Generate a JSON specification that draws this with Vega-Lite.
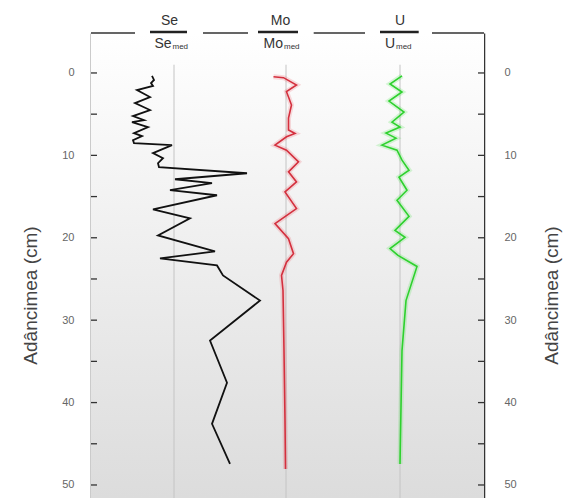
{
  "$schema": "https://vega.github.io/schema/vega-lite/v6.json",
  "width": 393,
  "height": 465,
  "autosize": "none",
  "padding": {"left": 91, "top": 33, "right": 80, "bottom": 0},
  "background": "white",
  "config": {
    "view": {"stroke": null},
    "font": "Liberation Sans",
    "axis": {
      "labelFont": "Liberation Sans",
      "labelFontSize": 11,
      "labelColor": "#666666",
      "titleFont": "Liberation Sans",
      "titleFontSize": 19,
      "titleFontWeight": "normal",
      "titleColor": "#444444",
      "domainColor": "#333333",
      "domainWidth": 1.5,
      "grid": false,
      "zindex": 1
    }
  },
  "datasets": {
    "se": [
      {"d": 0.36, "v": 0.56}, {"d": 0.85, "v": 0.6}, {"d": 1.22, "v": 0.54}, {"d": 1.58, "v": 0.58},
      {"d": 2.07, "v": 0.26}, {"d": 2.92, "v": 0.52}, {"d": 3.65, "v": 0.22}, {"d": 4.5, "v": 0.52},
      {"d": 5.23, "v": 0.18}, {"d": 5.72, "v": 0.4}, {"d": 5.96, "v": 0.16}, {"d": 6.57, "v": 0.48},
      {"d": 7.3, "v": 0.2}, {"d": 7.66, "v": 0.36}, {"d": 8.15, "v": 0.18}, {"d": 8.52, "v": 0.2},
      {"d": 8.76, "v": 0.96}, {"d": 9.73, "v": 0.58}, {"d": 10.34, "v": 0.78}, {"d": 10.95, "v": 0.68},
      {"d": 11.44, "v": 0.7}, {"d": 12.17, "v": 2.46}, {"d": 12.9, "v": 1.02}, {"d": 13.38, "v": 1.76},
      {"d": 14.23, "v": 0.92}, {"d": 14.84, "v": 1.86}, {"d": 16.55, "v": 0.58}, {"d": 17.64, "v": 1.32},
      {"d": 19.71, "v": 0.68}, {"d": 21.65, "v": 1.82}, {"d": 22.51, "v": 0.72}, {"d": 23.36, "v": 1.86},
      {"d": 24.57, "v": 1.98}, {"d": 27.62, "v": 2.72}, {"d": 32.48, "v": 1.72}, {"d": 37.59, "v": 2.06},
      {"d": 42.58, "v": 1.76}, {"d": 47.45, "v": 2.12}
    ],
    "mo": [
      {"d": 0.45, "v": 0.75}, {"d": 0.57, "v": 0.95}, {"d": 1.46, "v": 1.21}, {"d": 2.27, "v": 1.01},
      {"d": 3.89, "v": 1.11}, {"d": 5.47, "v": 1.05}, {"d": 6.93, "v": 1.05}, {"d": 7.34, "v": 1.18},
      {"d": 7.75, "v": 1.01}, {"d": 8.76, "v": 0.78}, {"d": 9.37, "v": 1.01}, {"d": 10.79, "v": 1.25},
      {"d": 12.0, "v": 1.05}, {"d": 13.22, "v": 1.21}, {"d": 14.44, "v": 0.98}, {"d": 16.46, "v": 1.21},
      {"d": 18.28, "v": 0.78}, {"d": 20.11, "v": 1.05}, {"d": 21.93, "v": 1.15}, {"d": 22.96, "v": 1.01},
      {"d": 24.57, "v": 0.91}, {"d": 26.4, "v": 0.94}, {"d": 33.7, "v": 0.96}, {"d": 42.2, "v": 0.98},
      {"d": 48.05, "v": 0.99}
    ],
    "u": [
      {"d": 0.36, "v": 1.04}, {"d": 1.34, "v": 0.8}, {"d": 2.31, "v": 1.04}, {"d": 3.41, "v": 0.78},
      {"d": 4.74, "v": 1.08}, {"d": 5.96, "v": 0.84}, {"d": 6.57, "v": 1.0}, {"d": 7.3, "v": 0.72},
      {"d": 7.91, "v": 0.92}, {"d": 8.76, "v": 0.64}, {"d": 9.37, "v": 0.94}, {"d": 10.58, "v": 1.04},
      {"d": 11.8, "v": 1.18}, {"d": 12.65, "v": 0.98}, {"d": 14.23, "v": 1.14}, {"d": 15.45, "v": 0.94},
      {"d": 17.4, "v": 1.18}, {"d": 19.1, "v": 0.9}, {"d": 19.95, "v": 1.1}, {"d": 21.3, "v": 0.8},
      {"d": 22.14, "v": 0.96}, {"d": 23.48, "v": 1.34}, {"d": 27.62, "v": 1.12}, {"d": 33.7, "v": 1.04},
      {"d": 47.45, "v": 1.0}
    ],
    "ticks": [
      {"t": 0}, {"t": 5}, {"t": 10}, {"t": 15}, {"t": 20}, {"t": 25},
      {"t": 30}, {"t": 35}, {"t": 40}, {"t": 45}, {"t": 50}
    ],
    "one": [{}]
  },
  "layer": [
    {
      "data": {"name": "one"},
      "mark": {"type": "rect", "fill": {"gradient": "linear", "x1": 0, "y1": 0, "x2": 0, "y2": 1, "stops": [{"offset": 0, "color": "#ffffff"}, {"offset": 1, "color": "#dcdcdc"}]}},
      "encoding": {}
    },
    {
      "data": {"name": "one"},
      "mark": {"type": "rule", "color": "#c4c4c4", "strokeWidth": 1},
      "encoding": {
        "x": {"datum": 1, "type": "quantitative", "scale": {"domain": [-0.66, 7.2], "nice": false, "zero": false}, "axis": null},
        "y": {"datum": -1, "type": "quantitative", "scale": {"domain": [-4.85, 51.58], "reverse": true, "nice": false, "zero": false}, "axis": null},
        "y2": {"datum": 51.58}
      }
    },
    {
      "data": {"name": "one"},
      "mark": {"type": "rule", "color": "#c4c4c4", "strokeWidth": 1},
      "encoding": {
        "x": {"datum": 1, "type": "quantitative", "scale": {"domain": [-2.9, 4.96], "nice": false, "zero": false}, "axis": null},
        "y": {"datum": -1, "type": "quantitative", "scale": {"domain": [-4.85, 51.58], "reverse": true, "nice": false, "zero": false}, "axis": null},
        "y2": {"datum": 51.58}
      }
    },
    {
      "data": {"name": "one"},
      "mark": {"type": "rule", "color": "#c4c4c4", "strokeWidth": 1},
      "encoding": {
        "x": {"datum": 1, "type": "quantitative", "scale": {"domain": [-5.18, 2.68], "nice": false, "zero": false}, "axis": null},
        "y": {"datum": -1, "type": "quantitative", "scale": {"domain": [-4.85, 51.58], "reverse": true, "nice": false, "zero": false}, "axis": null},
        "y2": {"datum": 51.58}
      }
    },
    {
      "data": {"name": "ticks"},
      "mark": {"type": "rule", "color": "#333333", "strokeWidth": 1.3},
      "encoding": {
        "x": {"datum": -0.66, "type": "quantitative", "scale": {"domain": [-0.66, 7.2], "nice": false, "zero": false}, "axis": null},
        "x2": {"datum": -0.54},
        "y": {"field": "t", "type": "quantitative", "scale": {"domain": [-4.85, 51.58], "reverse": true, "nice": false, "zero": false}, "axis": null}
      }
    },
    {
      "data": {"name": "ticks"},
      "mark": {"type": "rule", "color": "#333333", "strokeWidth": 1.3},
      "encoding": {
        "x": {"datum": 2.56, "type": "quantitative", "scale": {"domain": [-5.18, 2.68], "nice": false, "zero": false}, "axis": null},
        "x2": {"datum": 2.68},
        "y": {"field": "t", "type": "quantitative", "scale": {"domain": [-4.85, 51.58], "reverse": true, "nice": false, "zero": false}, "axis": null}
      }
    },
    {
      "data": {"name": "one"},
      "mark": {"type": "rule", "color": "#333333", "strokeWidth": 1.5},
      "encoding": {
        "x": {"datum": -0.66, "type": "quantitative", "scale": {"domain": [-0.66, 7.2], "nice": false, "zero": false}, "axis": null},
        "x2": {"datum": 0.22},
        "y": {"datum": -4.85, "type": "quantitative", "scale": {"domain": [-4.85, 51.58], "reverse": true, "nice": false, "zero": false}, "axis": null}
      }
    },
    {
      "data": {"name": "one"},
      "mark": {"type": "rule", "color": "#333333", "strokeWidth": 1.5},
      "encoding": {
        "x": {"datum": 1.58, "type": "quantitative", "scale": {"domain": [-0.66, 7.2], "nice": false, "zero": false}, "axis": null},
        "x2": {"datum": 2.48},
        "y": {"datum": -4.85, "type": "quantitative", "scale": {"domain": [-4.85, 51.58], "reverse": true, "nice": false, "zero": false}, "axis": null}
      }
    },
    {
      "data": {"name": "one"},
      "mark": {"type": "rule", "color": "#333333", "strokeWidth": 1.5},
      "encoding": {
        "x": {"datum": 1.554, "type": "quantitative", "scale": {"domain": [-2.9, 4.96], "nice": false, "zero": false}, "axis": null},
        "x2": {"datum": 2.58},
        "y": {"datum": -4.85, "type": "quantitative", "scale": {"domain": [-4.85, 51.58], "reverse": true, "nice": false, "zero": false}, "axis": null}
      }
    },
    {
      "data": {"name": "one"},
      "mark": {"type": "rule", "color": "#333333", "strokeWidth": 1.5},
      "encoding": {
        "x": {"datum": 1.64, "type": "quantitative", "scale": {"domain": [-5.18, 2.68], "nice": false, "zero": false}, "axis": null},
        "x2": {"datum": 2.68},
        "y": {"datum": -4.85, "type": "quantitative", "scale": {"domain": [-4.85, 51.58], "reverse": true, "nice": false, "zero": false}, "axis": null}
      }
    },
    {
      "data": {"name": "one"},
      "mark": {"type": "rule", "color": "#222222", "strokeWidth": 2.5},
      "encoding": {
        "x": {"datum": 0.52, "type": "quantitative", "scale": {"domain": [-0.66, 7.2], "nice": false, "zero": false}, "axis": null},
        "x2": {"datum": 1.26},
        "y": {"datum": -4.98, "type": "quantitative", "scale": {"domain": [-4.85, 51.58], "reverse": true, "nice": false, "zero": false}, "axis": null}
      }
    },
    {
      "data": {"name": "one"},
      "mark": {"type": "rule", "color": "#222222", "strokeWidth": 2.5},
      "encoding": {
        "x": {"datum": 0.44, "type": "quantitative", "scale": {"domain": [-2.9, 4.96], "nice": false, "zero": false}, "axis": null},
        "x2": {"datum": 1.24},
        "y": {"datum": -4.98, "type": "quantitative", "scale": {"domain": [-4.85, 51.58], "reverse": true, "nice": false, "zero": false}, "axis": null}
      }
    },
    {
      "data": {"name": "one"},
      "mark": {"type": "rule", "color": "#222222", "strokeWidth": 2.5},
      "encoding": {
        "x": {"datum": 0.6, "type": "quantitative", "scale": {"domain": [-5.18, 2.68], "nice": false, "zero": false}, "axis": null},
        "x2": {"datum": 1.374},
        "y": {"datum": -4.98, "type": "quantitative", "scale": {"domain": [-4.85, 51.58], "reverse": true, "nice": false, "zero": false}, "axis": null}
      }
    },
    {
      "data": {"name": "one"},
      "mark": {"type": "text", "text": "Se", "fontSize": 14, "color": "#333333", "align": "center", "baseline": "middle"},
      "encoding": {
        "x": {"datum": 0.91, "type": "quantitative", "scale": {"domain": [-0.66, 7.2], "nice": false, "zero": false}, "axis": null},
        "y": {"datum": -6.31, "type": "quantitative", "scale": {"domain": [-4.85, 51.58], "reverse": true, "nice": false, "zero": false}, "axis": null}
      }
    },
    {
      "data": {"name": "one"},
      "mark": {"type": "text", "text": "Se", "fontSize": 14, "color": "#333333", "align": "right", "baseline": "middle"},
      "encoding": {
        "x": {"datum": 0.95, "type": "quantitative", "scale": {"domain": [-0.66, 7.2], "nice": false, "zero": false}, "axis": null},
        "y": {"datum": -3.52, "type": "quantitative", "scale": {"domain": [-4.85, 51.58], "reverse": true, "nice": false, "zero": false}, "axis": null}
      }
    },
    {
      "data": {"name": "one"},
      "mark": {"type": "text", "text": "med", "fontSize": 8, "color": "#333333", "align": "left", "baseline": "middle"},
      "encoding": {
        "x": {"datum": 0.97, "type": "quantitative", "scale": {"domain": [-0.66, 7.2], "nice": false, "zero": false}, "axis": null},
        "y": {"datum": -3.1, "type": "quantitative", "scale": {"domain": [-4.85, 51.58], "reverse": true, "nice": false, "zero": false}, "axis": null}
      }
    },
    {
      "data": {"name": "one"},
      "mark": {"type": "text", "text": "Mo", "fontSize": 14, "color": "#333333", "align": "center", "baseline": "middle"},
      "encoding": {
        "x": {"datum": 0.89, "type": "quantitative", "scale": {"domain": [-2.9, 4.96], "nice": false, "zero": false}, "axis": null},
        "y": {"datum": -6.31, "type": "quantitative", "scale": {"domain": [-4.85, 51.58], "reverse": true, "nice": false, "zero": false}, "axis": null}
      }
    },
    {
      "data": {"name": "one"},
      "mark": {"type": "text", "text": "Mo", "fontSize": 14, "color": "#333333", "align": "right", "baseline": "middle"},
      "encoding": {
        "x": {"datum": 0.94, "type": "quantitative", "scale": {"domain": [-2.9, 4.96], "nice": false, "zero": false}, "axis": null},
        "y": {"datum": -3.52, "type": "quantitative", "scale": {"domain": [-4.85, 51.58], "reverse": true, "nice": false, "zero": false}, "axis": null}
      }
    },
    {
      "data": {"name": "one"},
      "mark": {"type": "text", "text": "med", "fontSize": 8, "color": "#333333", "align": "left", "baseline": "middle"},
      "encoding": {
        "x": {"datum": 0.96, "type": "quantitative", "scale": {"domain": [-2.9, 4.96], "nice": false, "zero": false}, "axis": null},
        "y": {"datum": -3.1, "type": "quantitative", "scale": {"domain": [-4.85, 51.58], "reverse": true, "nice": false, "zero": false}, "axis": null}
      }
    },
    {
      "data": {"name": "one"},
      "mark": {"type": "text", "text": "U", "fontSize": 14, "color": "#333333", "align": "center", "baseline": "middle"},
      "encoding": {
        "x": {"datum": 1.0, "type": "quantitative", "scale": {"domain": [-5.18, 2.68], "nice": false, "zero": false}, "axis": null},
        "y": {"datum": -6.31, "type": "quantitative", "scale": {"domain": [-4.85, 51.58], "reverse": true, "nice": false, "zero": false}, "axis": null}
      }
    },
    {
      "data": {"name": "one"},
      "mark": {"type": "text", "text": "U", "fontSize": 14, "color": "#333333", "align": "right", "baseline": "middle"},
      "encoding": {
        "x": {"datum": 0.9, "type": "quantitative", "scale": {"domain": [-5.18, 2.68], "nice": false, "zero": false}, "axis": null},
        "y": {"datum": -3.52, "type": "quantitative", "scale": {"domain": [-4.85, 51.58], "reverse": true, "nice": false, "zero": false}, "axis": null}
      }
    },
    {
      "data": {"name": "one"},
      "mark": {"type": "text", "text": "med", "fontSize": 8, "color": "#333333", "align": "left", "baseline": "middle"},
      "encoding": {
        "x": {"datum": 0.92, "type": "quantitative", "scale": {"domain": [-5.18, 2.68], "nice": false, "zero": false}, "axis": null},
        "y": {"datum": -3.1, "type": "quantitative", "scale": {"domain": [-4.85, 51.58], "reverse": true, "nice": false, "zero": false}, "axis": null}
      }
    },
    {
      "data": {"name": "se"},
      "mark": {"type": "line", "color": "#111111", "strokeWidth": 1.8},
      "encoding": {
        "x": {"field": "v", "type": "quantitative", "scale": {"domain": [-0.66, 7.2], "nice": false, "zero": false}, "axis": null},
        "y": {"field": "d", "type": "quantitative", "scale": {"domain": [-4.85, 51.58], "reverse": true, "nice": false, "zero": false},
          "axis": {"orient": "left", "title": "Adâncimea (cm)", "values": [0, 10, 20, 30, 40, 50],
            "ticks": false, "labelPadding": 17,
            "titleX": -61, "titleY": 262, "titleAngle": -90, "titleAlign": "center", "titleBaseline": "middle", "labelOverlap": false, "labelFlush": false}},
        "order": {"field": "d", "type": "quantitative"}
      }
    },
    {
      "data": {"name": "mo"},
      "mark": {"type": "line", "color": "#e8404c", "strokeWidth": 5, "opacity": 0.18},
      "encoding": {
        "x": {"field": "v", "type": "quantitative", "scale": {"domain": [-2.9, 4.96], "nice": false, "zero": false}, "axis": null},
        "y": {"field": "d", "type": "quantitative", "scale": {"domain": [-4.85, 51.58], "reverse": true, "nice": false, "zero": false}, "axis": null},
        "order": {"field": "d", "type": "quantitative"}
      }
    },
    {
      "data": {"name": "mo"},
      "mark": {"type": "line", "color": "#d4303e", "strokeWidth": 1.6},
      "encoding": {
        "x": {"field": "v", "type": "quantitative", "scale": {"domain": [-2.9, 4.96], "nice": false, "zero": false}, "axis": null},
        "y": {"field": "d", "type": "quantitative", "scale": {"domain": [-4.85, 51.58], "reverse": true, "nice": false, "zero": false},
          "axis": {"orient": "right", "title": "Adâncimea (cm)", "values": [0, 10, 20, 30, 40, 50],
            "ticks": false, "labelPadding": 20,
            "titleX": 67, "titleY": 262, "titleAngle": -90, "titleAlign": "center", "titleBaseline": "middle", "labelOverlap": false, "labelFlush": false}},
        "order": {"field": "d", "type": "quantitative"}
      }
    },
    {
      "data": {"name": "u"},
      "mark": {"type": "line", "color": "#40e040", "strokeWidth": 5, "opacity": 0.2},
      "encoding": {
        "x": {"field": "v", "type": "quantitative", "scale": {"domain": [-5.18, 2.68], "nice": false, "zero": false}, "axis": null},
        "y": {"field": "d", "type": "quantitative", "scale": {"domain": [-4.85, 51.58], "reverse": true, "nice": false, "zero": false}, "axis": null},
        "order": {"field": "d", "type": "quantitative"}
      }
    },
    {
      "data": {"name": "u"},
      "mark": {"type": "line", "color": "#2ed12e", "strokeWidth": 1.6},
      "encoding": {
        "x": {"field": "v", "type": "quantitative", "scale": {"domain": [-5.18, 2.68], "nice": false, "zero": false}, "axis": null},
        "y": {"field": "d", "type": "quantitative", "scale": {"domain": [-4.85, 51.58], "reverse": true, "nice": false, "zero": false}, "axis": null},
        "order": {"field": "d", "type": "quantitative"}
      }
    }
  ],
  "resolve": {"scale": {"x": "independent"}, "axis": {"y": "independent"}}
}
